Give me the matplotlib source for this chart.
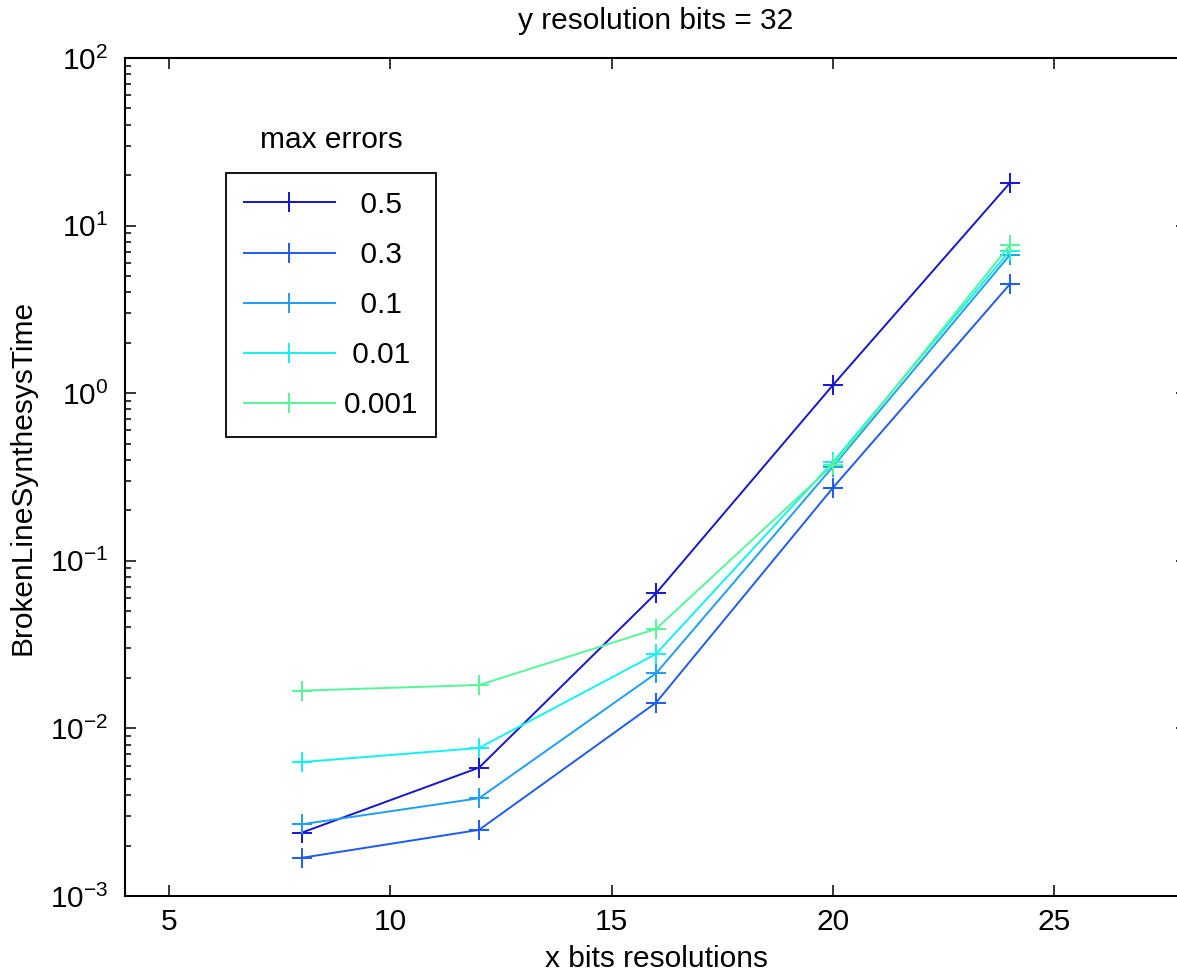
import numpy as np
import matplotlib
matplotlib.use("Agg")
import matplotlib.pyplot as plt
from matplotlib.ticker import LogLocator, NullFormatter

# -------------------------
# Data
# -------------------------
x_bits = [8, 12, 16, 20, 24]
err_labels = ["  0.5", "  0.3", "  0.1", " 0.01", "0.001"]
err_colors = ["#1515d2", "#1d5af6", "#1e9ef8", "#12f2f2", "#55f699"]

t_05 = [0.00239, 0.00583, 0.0640, 1.12, 18.0]
t_03 = [0.00169, 0.00248, 0.01423, 0.273, 4.48]
t_01 = [0.00268, 0.00383, 0.0213, 0.365, 6.70]
t_001 = [0.0063, 0.00764, 0.0278, 0.388, 7.10]
t_0001 = [0.0168, 0.01815, 0.0392, 0.373, 7.66]
times = [t_05, t_03, t_01, t_001, t_0001]

plt.rcParams['font.family'] = ['Liberation Sans', 'DejaVu Sans']
plt.rcParams['mathtext.default'] = 'regular'
fs = 21.5

fig = plt.figure(figsize=(11.77, 9.72), dpi=100)
ax = fig.add_axes([0.1062, 0.0782, 0.9023, 0.8621])

lines = []
for y, lab, c in zip(times, err_labels, err_colors):
    ln, = ax.plot(x_bits, y, '-+', color=c, lw=1.4, ms=14, mew=1.4, label=lab)
    lines.append(ln)

ax.set_yscale('log')
ax.set_xlim(4, 28)
ax.set_ylim(1e-3, 1e2)
ax.set_xticks([5, 10, 15, 20, 25])
ax.yaxis.set_major_locator(LogLocator(base=10, numticks=10))
ax.yaxis.set_minor_locator(LogLocator(base=10, subs=np.arange(2, 10), numticks=20))
ax.yaxis.set_minor_formatter(NullFormatter())

ax.tick_params(which='both', direction='in', top=True, right=True, labelsize=fs, width=1.1)
ax.tick_params(which='major', length=8)
ax.tick_params(which='minor', length=4, right=False)
ax.tick_params(axis='x', pad=9)
ax.tick_params(axis='y', pad=12)
for s in ax.spines.values():
    s.set_linewidth(1.5)

ax.set_xlabel("x bits resolutions", fontsize=fs, labelpad=6)
ax.set_ylabel("BrokenLineSynthesysTime", fontsize=fs, labelpad=10)
ax.set_title("y resolution bits = 32", fontsize=fs, pad=21)

leg = ax.legend(handles=lines, loc='upper left', bbox_to_anchor=(0.0951, 0.8628),
                borderaxespad=0, fontsize=fs, frameon=True, fancybox=False,
                framealpha=1, edgecolor='black', handlelength=3.05,
                handletextpad=0.3, labelspacing=0.74, borderpad=0.6)
leg.get_frame().set_linewidth(1.3)
ax.text(0.194, 0.902, "max errors", transform=ax.transAxes, fontsize=fs,
        ha='center', va='center')

fig.savefig("out.png", dpi=100)
